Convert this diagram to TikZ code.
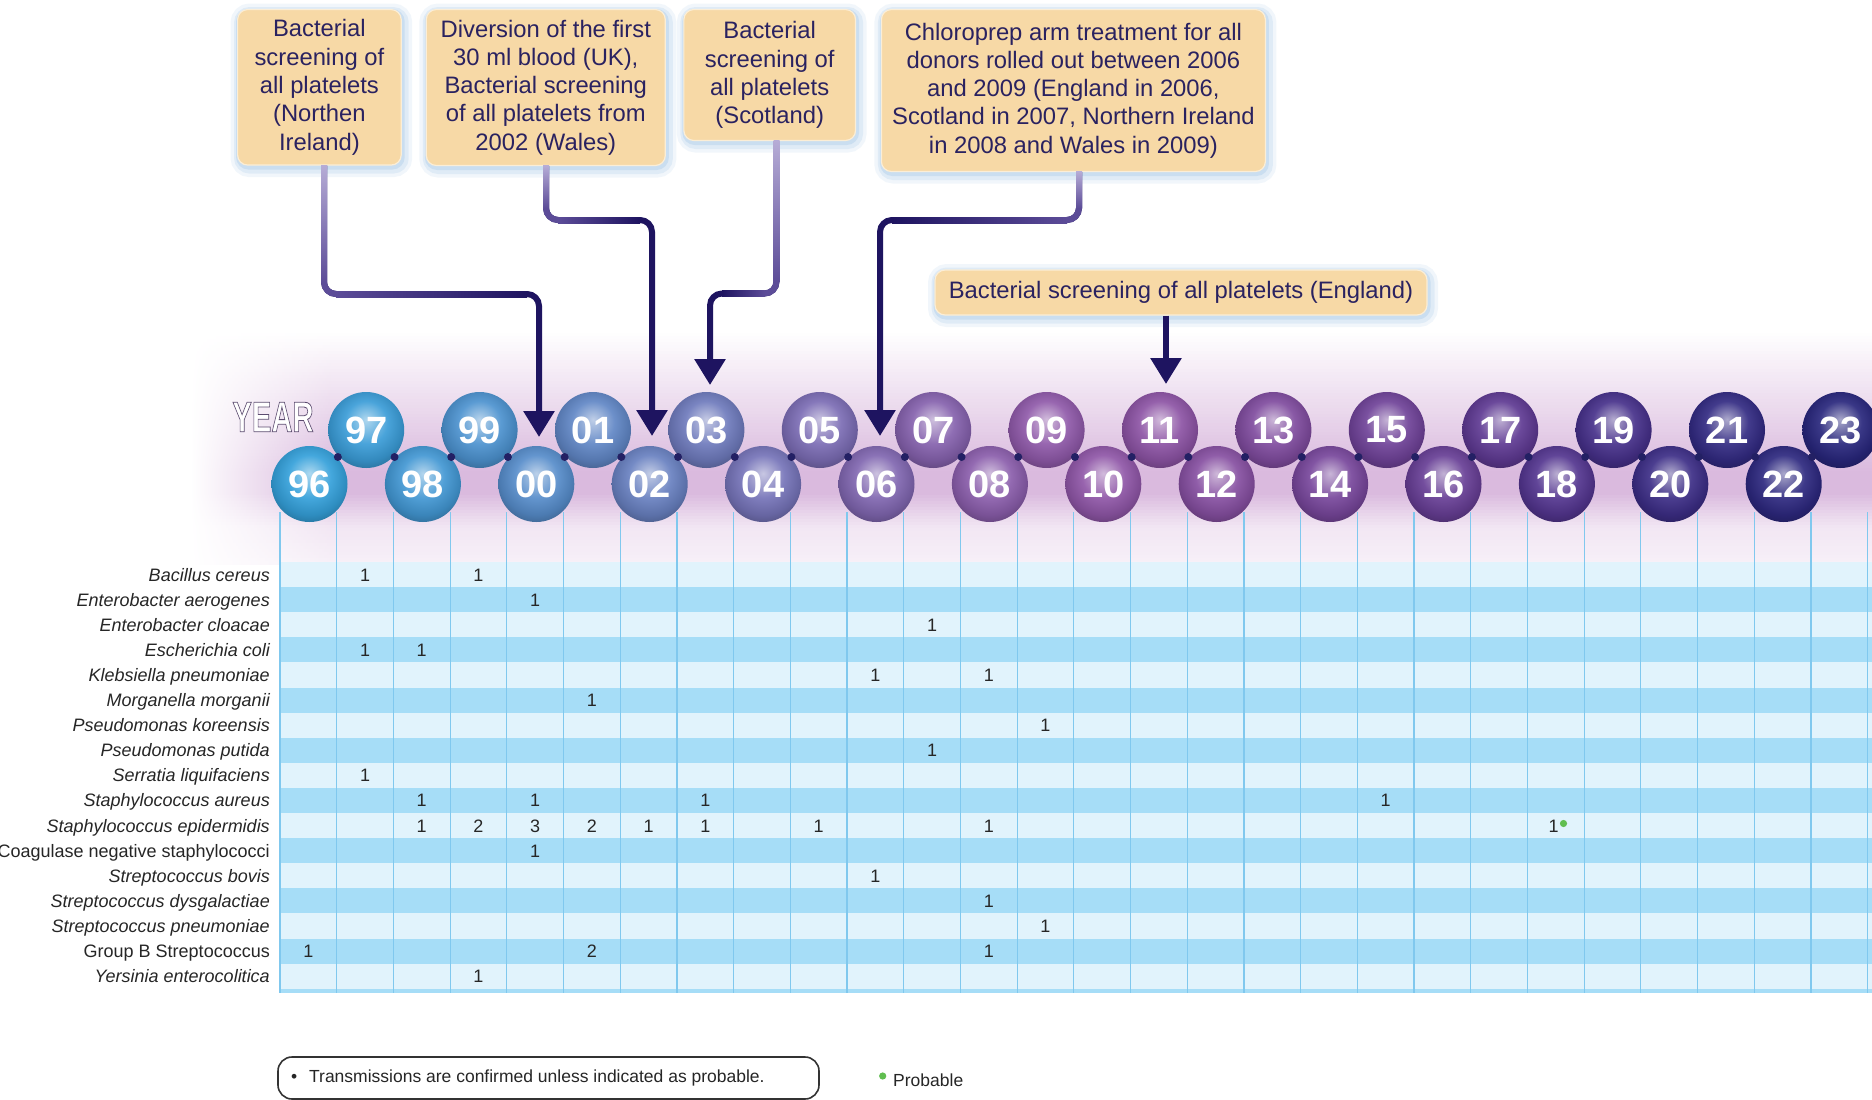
\documentclass[tikz,border=0pt]{standalone}
\usepackage{fontspec}
\setmainfont{Liberation Sans}
\usetikzlibrary{arrows.meta}

\definecolor{peach}{RGB}{247,217,166}
\definecolor{boxtext}{RGB}{42,34,96}
\definecolor{glowc}{RGB}{120,170,220}
\definecolor{lav}{RGB}{182,172,214}
\definecolor{midc}{RGB}{92,76,152}
\definecolor{navy}{RGB}{30,20,96}
\definecolor{lilac}{RGB}{218,186,222}
\definecolor{rowlight}{RGB}{225,243,252}
\definecolor{rowdark}{RGB}{166,221,247}
\definecolor{gridc}{RGB}{128,200,238}
\definecolor{probgreen}{RGB}{96,190,80}
\definecolor{beadc}{RGB}{35,32,100}
\colorlet{bcol}{blue}
\colorlet{bandc}{white}

\pgfdeclareradialshading[bcol]{bubble}{\pgfpoint{0bp}{7bp}}{color(0bp)=(bcol!40!white); color(14bp)=(bcol!92!white); color(24bp)=(bcol!88!black); color(30bp)=(bcol!72!black); color(50bp)=(bcol!72!black)}

\tikzset{
 cbox/.style={rounded corners=10pt, fill=peach, draw=peach!45!white, line width=1.2pt,
   text=boxtext, align=center, inner sep=0pt, font=\fontsize{23.8}{28.3}\selectfont,
   preaction={draw=glowc, draw opacity=0.10, line width=18pt, transform canvas={xshift=2pt,yshift=-3pt}},
   preaction={draw=glowc, draw opacity=0.14, line width=11pt, transform canvas={xshift=2pt,yshift=-3pt}},
   preaction={draw=glowc, draw opacity=0.20, line width=5pt, transform canvas={xshift=1pt,yshift=-2pt}}},
 conn/.style={line width=6pt, rounded corners=12pt, draw=navy, -{Triangle[width=30pt,length=26pt]}},
 midline/.style={line width=6pt, rounded corners=12pt, draw=midc},
 ballnode/.style={circle, minimum size=76pt, inner sep=0pt, shade, shading=bubble, text=white,
   font=\bfseries\fontsize{38}{38}\selectfont},
 rowlab/.style={anchor=base east, font=\fontsize{18}{20}\selectfont, text=black!85, inner sep=0pt},
 numsty/.style={anchor=base, font=\fontsize{18}{20}\selectfont, text=black!85, inner sep=0pt},
}

\begin{document}
\begin{tikzpicture}[x=1pt,y=-1pt]
\useasboundingbox (0,0) rectangle (1872,1100);
\fill[white] (0,0) rectangle (1872,1100);

% lilac band
\foreach \yy in {321,324,...,561} {
  \pgfmathtruncatemacro{\p}{\yy<330 ? 0 : (\yy<470 ? (\yy-330)/1.4 : (\yy<492 ? 100 : (\yy<525 ? 100-(\yy-492)*1.9 : 37-(\yy-525)*0.4)))}
  \colorlet{bandc}{lilac!\p!white}
  \fill[bandc] (329.5,\yy) rectangle (1872,\yy+3.6);
  \shade[left color=white, right color=bandc] (190,\yy) rectangle (330,\yy+3.6);
}

% table stripes
\foreach \k in {0,...,16} {
  \pgfmathtruncatemacro{\odd}{mod(\k,2)}
  \ifnum\odd=0 \colorlet{bandc}{rowlight}\else \colorlet{bandc}{rowdark}\fi
  \fill[bandc] (280,{562+25.1*\k}) rectangle (1872,{562+25.1*(\k+1)});
}
\fill[rowdark] (280,988.6) rectangle (1872,993);

% grid lines
\foreach \k in {0,...,28} {
  \draw[gridc, line width=1.2pt] ({280+56.7*\k},512) -- ({280+56.7*\k},993);
}

% bubbles
\foreach \i/\lab/\r/\g/\b in {0/96/52/160/218, 1/97/58/156/215, 2/98/66/151/211, 3/99/76/146/207,
  4/00/86/140/202, 5/01/96/134/197, 6/02/104/128/192, 7/03/110/122/188, 8/04/117/115/184,
  9/05/123/108/180, 10/06/128/102/176, 11/07/133/97/173, 12/08/138/93/171, 13/09/143/89/169,
  14/10/143/86/167, 15/11/140/83/164, 16/12/134/79/161, 17/13/127/75/158, 18/14/119/70/155,
  19/15/111/66/152, 20/16/103/62/149, 21/17/94/57/146, 22/18/83/53/143, 23/19/70/48/138,
  24/20/60/45/134, 25/21/50/42/130, 26/22/45/40/127, 27/23/40/38/124} {
  \definecolor{bcol}{RGB}{\r,\g,\b}
  \pgfmathsetmacro{\by}{mod(\i,2)==1 ? 430 : 484}
  \node[ballnode] (y\lab) at ({309.5+56.7*\i},\by) {\lab};
}
\foreach \i in {0,...,26} {
  \fill[beadc] ({309.5+56.7*(\i+0.5)},457) circle[radius=4pt];
}

% YEAR
\node[text=white, font=\bfseries\fontsize{43}{43}\selectfont, xscale=0.68, inner sep=0pt] (yearlbl) at (273,417)
  {\addfontfeature{FakeBold=2}\special{pdf:bcolor [1 1 1] [0.36 0.30 0.44]}YEAR\special{pdf:ecolor}};

% callout boxes
\node[cbox, minimum width=163.6pt, minimum height=155.5pt] (b1) at (319.4,87.3)
  {Bacterial\\screening of\\all platelets\\(Northen\\Ireland)};
\node[cbox, minimum width=239pt, minimum height=156pt] (b2) at (545.8,87.5)
  {Diversion of the first\\30 ml blood (UK),\\Bacterial screening\\of all platelets from\\2002 (Wales)};
\node[cbox, minimum width=171.7pt, minimum height=131pt] (b3) at (769.7,75)
  {Bacterial\\screening of\\all platelets\\(Scotland)};
\node[cbox, minimum width=384pt, minimum height=162pt] (b4) at (1073.4,90.5)
  {Chloroprep arm treatment for all\\donors rolled out between 2006\\and 2009 (England in 2006,\\Scotland in 2007, Northern Ireland\\in 2008 and Wales in 2009)};
\node[cbox, minimum width=492pt, minimum height=45pt] (b5) at (1181,292.5)
  {Bacterial screening of all platelets (England)};

% connectors
\coordinate (s1) at (324,0);    \coordinate (k1) at (539,294);   \coordinate (m1) at (431,294);  \coordinate (t1) at (539,437);
\coordinate (s2) at (546,0);    \coordinate (k2) at (652,220);   \coordinate (m2) at (599,220);  \coordinate (t2) at (652,436);
\coordinate (s3) at (776.5,0);  \coordinate (k3) at (710,293.5); \coordinate (m3) at (743,293.5); \coordinate (t3) at (710,385);
\coordinate (s4) at (1079,0);   \coordinate (k4) at (880,220);   \coordinate (m4) at (980,220);  \coordinate (t4) at (880,436);
\coordinate (s5) at (1166,0);   \coordinate (t5) at (1166,384);

\draw[conn] (b1.south -| s1) |- (k1) -- (t1);
\draw[midline] (b1.south -| s1) |- (m1);
\shade[top color=lav, bottom color=midc] (321,165) rectangle (327,282);
\shade[left color=midc, right color=navy] (336,291) rectangle (527,297);

\draw[conn] (b2.south -| s2) |- (k2) -- (t2);
\draw[midline] (b2.south -| s2) |- (m2);
\shade[top color=lav, bottom color=midc] (543,165.5) rectangle (549,208);
\shade[left color=midc, right color=navy] (558,217) rectangle (640,223);

\draw[conn] (b3.south -| s3) |- (k3) -- (t3);
\draw[midline] (b3.south -| s3) |- (m3);
\shade[top color=lav, bottom color=midc] (773.5,140.5) rectangle (779.5,281.5);
\shade[left color=navy, right color=midc] (722,290.5) rectangle (764.5,296.5);

\draw[conn] (b4.south -| s4) |- (k4) -- (t4);
\draw[midline] (b4.south -| s4) |- (m4);
\shade[top color=lav, bottom color=midc] (1076,171.5) rectangle (1082,208);
\shade[left color=navy, right color=midc] (892,217) rectangle (1067,223);

\draw[conn] (b5.south -| s5) -- (t5);

% row labels
\foreach \k/\lab in {1/{\itshape Bacillus cereus}, 2/{\itshape Enterobacter aerogenes},
  3/{\itshape Enterobacter cloacae}, 4/{\itshape Escherichia coli}, 5/{\itshape Klebsiella pneumoniae},
  6/{\itshape Morganella morganii}, 7/{\itshape Pseudomonas koreensis}, 8/{\itshape Pseudomonas putida},
  9/{\itshape Serratia liquifaciens}, 10/{\itshape Staphylococcus aureus},
  11/{\itshape Staphylococcus epidermidis}, 12/{Coagulase negative staphylococci},
  13/{\itshape Streptococcus bovis}, 14/{\itshape Streptococcus dysgalactiae},
  15/{\itshape Streptococcus pneumoniae}, 16/{Group B Streptococcus}, 17/{\itshape Yersinia enterocolitica}} {
  \node[rowlab] (lab\k) at (270,{562+25.1*(\k-0.5)+6.5}) {\lab};
}

% counts
\foreach \r/\c/\v in {1/1/1, 1/3/1, 2/4/1, 3/11/1, 4/1/1, 4/2/1, 5/10/1, 5/12/1, 6/5/1, 7/13/1,
  8/11/1, 9/1/1, 10/2/1, 10/4/1, 10/7/1, 10/19/1, 11/2/1, 11/3/2, 11/4/3, 11/5/2, 11/6/1,
  11/7/1, 11/9/1, 11/12/1, 12/4/1, 13/10/1, 14/12/1, 15/13/1, 16/0/1, 16/5/2, 16/12/1, 17/3/1} {
  \node[numsty] (n\r-\c) at ({308.35+56.7*\c},{562+25.1*(\r-0.5)+6.5}) {\v};
}
\node[numsty] (n11-22) at (1553.5,{562+25.1*10.5+6.5}) {1};
\fill[probgreen] (1563.5,823.5) circle[radius=3.6pt];

% legend
\node[draw=black!80, line width=1.6pt, rounded corners=14pt, minimum width=541pt, minimum height=42pt,
  inner sep=0pt, font=\fontsize{17.5}{20}\selectfont, text=black!85] (legend) at (548.5,1078)
  {\makebox[515pt][l]{\textbullet\hspace{12pt}Transmissions are confirmed unless indicated as probable.}};
\fill[probgreen] (882.7,1076) circle[radius=3.6pt];
\node[anchor=west, inner sep=0pt, font=\fontsize{17.5}{20}\selectfont, text=black!85] (prob) at (893,1080.5) {Probable};

\end{tikzpicture}
\end{document}
